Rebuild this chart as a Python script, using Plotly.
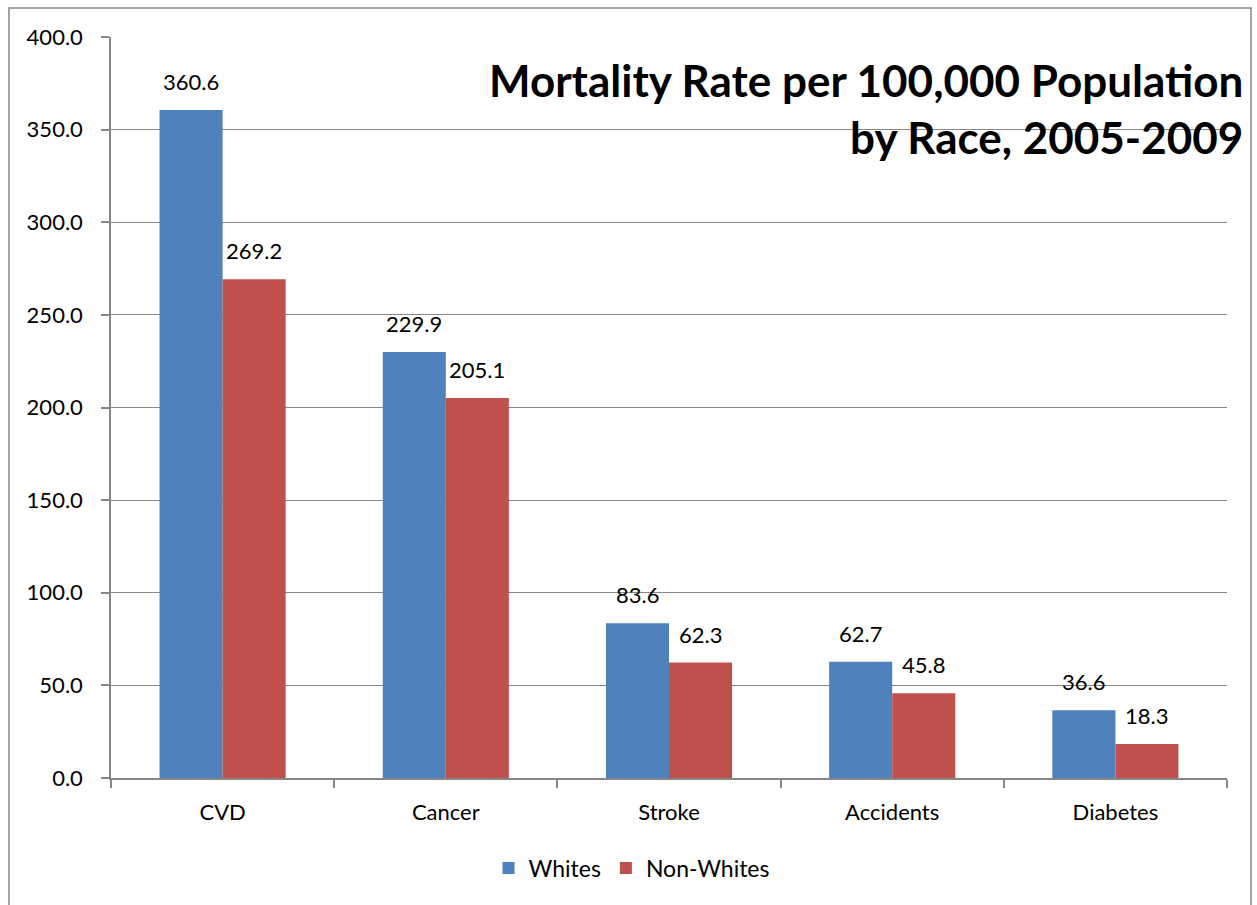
import plotly.graph_objects as go

categories = ["CVD", "Cancer", "Stroke", "Accidents", "Diabetes"]
whites = [360.6, 229.9, 83.6, 62.7, 36.6]
non_whites = [269.2, 205.1, 62.3, 45.8, 18.3]
y_ticks = [0, 50, 100, 150, 200, 250, 300, 350, 400]
title_lines = ["Mortality Rate per 100,000 Population", "by Race, 2005-2009"]

W, H = 1257, 905
L, R, T, B = 111, 1227, 37, 778
pw, ph = R - L, B - T

def px_x(x):
    return (x - L) / pw

def px_y(y):
    return (B - y) / ph

FONT = "Lato"
GRAY = "#868686"
BARGAP = 0.435
bar_px = pw / len(categories) * (1 - BARGAP) / 2

fig = go.Figure()
fig.add_trace(go.Bar(name="Whites", x=categories, y=whites,
                     marker=dict(color="#4F81BD", line=dict(width=0))))
fig.add_trace(go.Bar(name="Non-Whites", x=categories, y=non_whites,
                     marker=dict(color="#C0504D", line=dict(width=0))))

annotations = []
for series, shift in ((whites, -bar_px / 2), (non_whites, bar_px / 2)):
    for c, v in zip(categories, series):
        annotations.append(dict(
            x=c, y=v, xref="x", yref="y", text=f"{v:.1f}", showarrow=False,
            xanchor="center", yanchor="bottom", xshift=shift, yshift=13,
            font=dict(family=FONT, size=22, color="black"),
        ))
annotations.append(dict(
    text="<b>" + "<br>".join(title_lines) + "</b>",
    xref="paper", yref="paper", x=px_x(1245), y=px_y(52), xanchor="right", yanchor="top",
    align="right", showarrow=False,
    font=dict(family=FONT, size=44, color="black"),
))

fig.update_layout(
    width=W, height=H,
    margin=dict(l=L, r=W - R, t=T, b=H - B),
    paper_bgcolor="white", plot_bgcolor="white",
    barmode="group", bargap=BARGAP, bargroupgap=0,
    font=dict(family=FONT, size=22, color="black"),
    showlegend=True,
    legend=dict(orientation="h", x=px_x(632), y=px_y(868), xanchor="center", yanchor="middle",
                font=dict(family=FONT, size=23, color="black"), itemwidth=30),
    xaxis=dict(showline=True, linecolor=GRAY, linewidth=1.5, ticks="outside", tickson="boundaries",
               ticklen=8, tickcolor=GRAY, tickwidth=1.5, showgrid=False,
               ticklabelstandoff=14, tickfont=dict(family=FONT, size=22)),
    yaxis=dict(range=[0, 400], tickvals=y_ticks, ticktext=[f"{v:.1f}" for v in y_ticks],
               showline=True, linecolor=GRAY, linewidth=1.5, ticks="outside", ticklen=8,
               tickcolor=GRAY, tickwidth=1.5, showgrid=True, gridcolor=GRAY, gridwidth=1.2,
               zeroline=False, ticklabelstandoff=14, tickfont=dict(family=FONT, size=22)),
    annotations=annotations,
    shapes=[dict(type="rect", xref="paper", yref="paper",
                 x0=px_x(9), x1=px_x(1251), y0=px_y(915), y1=px_y(8),
                 line=dict(color=GRAY, width=1.5), fillcolor="rgba(0,0,0,0)", layer="below")],
)

fig.write_html("out.html", config={"displayModeBar": False},
               post_script="document.body.style.margin='0px';")
